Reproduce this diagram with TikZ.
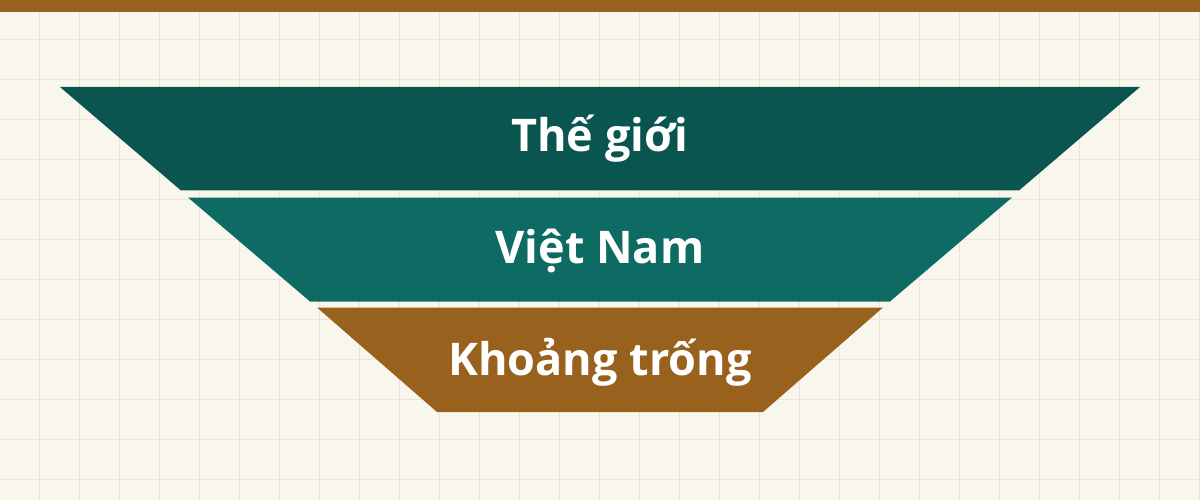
\documentclass[tikz,border=0pt]{standalone}
\usepackage{fontspec}
\setmainfont{Open Sans}
\definecolor{bgc}{HTML}{F9F6EE}
\definecolor{gridc}{HTML}{ECE5D6}
\definecolor{barc}{HTML}{98621E}
\definecolor{tealdark}{HTML}{0A554F}
\definecolor{tealmid}{HTML}{0E6B63}
\definecolor{brownc}{HTML}{98621E}
\tikzset{
  layer/.style={draw=none},
  lbl/.style={text=white, font=\fontsize{45}{45}\selectfont\bfseries, anchor=base, inner sep=0pt}
}
\begin{document}
\begin{tikzpicture}[x=1pt,y=-1pt]
\useasboundingbox (0,0) rectangle (1200,500);
\fill[bgc] (0,0) rectangle (1200,500);
\foreach \i in {0,...,29} {
  \draw[gridc, line width=1.2pt] ({39.5+40*\i},0) -- ({39.5+40*\i},500);
}
\foreach \j in {0,...,12} {
  \draw[gridc, line width=1.2pt] (0,{39.5+40*\j}) -- (1200,{39.5+40*\j});
}
\fill[barc] (0,0) rectangle (1200,12);
\fill[tealdark, layer] (60,87) -- (1140,87) -- (1019,190.5) -- (181,190.5) -- cycle;
\fill[tealmid, layer] (188,197.5) -- (1012,197.5) -- (890,301.5) -- (310,301.5) -- cycle;
\fill[brownc, layer] (317,307.5) -- (883,307.5) -- (763,412) -- (437,412) -- cycle;
\node[lbl] (t1) at (600,152) {Thế giới};
\node[lbl] (t2) at (600,263.5) {Việt Nam};
\node[lbl] (t3) at (600,375) {Khoảng trống};
\end{tikzpicture}
\end{document}
